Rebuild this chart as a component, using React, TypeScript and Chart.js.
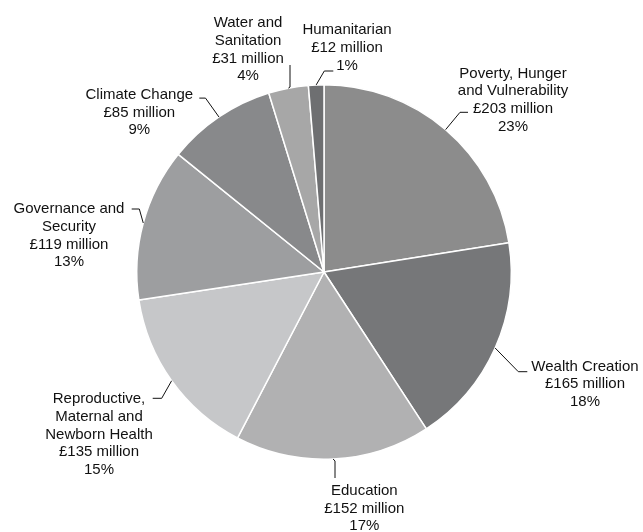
import { useEffect, useRef } from "react";
import { Chart, registerables } from "chart.js";

Chart.register(...registerables);

const categories = [
  "Poverty, Hunger and Vulnerability",
  "Wealth Creation",
  "Education",
  "Reproductive, Maternal and Newborn Health",
  "Governance and Security",
  "Climate Change",
  "Water and Sanitation",
  "Humanitarian",
];
const nameLines = [
  ["Poverty, Hunger", "and Vulnerability"],
  ["Wealth Creation"],
  ["Education"],
  ["Reproductive,", "Maternal and", "Newborn Health"],
  ["Governance and", "Security"],
  ["Climate Change"],
  ["Water and", "Sanitation"],
  ["Humanitarian"],
];
const values = [203, 165, 152, 135, 119, 85, 31, 12];
const amountLabels = [
  "£203 million",
  "£165 million",
  "£152 million",
  "£135 million",
  "£119 million",
  "£85 million",
  "£31 million",
  "£12 million",
];
const percentLabels = ["23%", "18%", "17%", "15%", "13%", "9%", "4%", "1%"];
const colors = [
  "#8c8c8c",
  "#767779",
  "#b1b1b2",
  "#c6c7c9",
  "#9d9ea0",
  "#88898b",
  "#a7a7a7",
  "#6e6f71",
];

// Label layout, offsets relative to the pie centre (text centre / first baseline, leader elbow, leader end)
const labelLayout = [
  { tx: 189, ty: -194.3, ex: 136, ey: -159.7, fx: 144, fy: -159.7 },
  { tx: 261, ty: 98.7, ex: 194.3, ey: 99.7, fx: 203.3, fy: 99.7 },
  { tx: 40.3, ty: 223, ex: 11, ey: 189, fx: 11, fy: 206 },
  { tx: -225, ty: 131.3, ex: -162.3, ey: 126.3, fx: -171.3, fy: 126.3 },
  { tx: -255, ty: -58.7, ex: -184.7, ey: -63, fx: -192.3, fy: -63 },
  { tx: -184.7, ty: -172.8, ex: -118.5, ey: -173.9, fx: -124.7, fy: -173.9 },
  { tx: -76, ty: -244.7, ex: -34, ey: -185, fx: -34, fy: -207 },
  { tx: 23, ty: -237.7, ex: 0.3, ey: -201, fx: 9.3, fy: -201 },
];
const LINE_H = 17.6;

const labelPlugin = {
  id: "outsideLabels",
  afterDatasetsDraw(chart: any) {
    const ctx = chart.ctx;
    const meta = chart.getDatasetMeta(0);
    ctx.save();
    ctx.font = "15px 'Liberation Sans', Arial, sans-serif";
    ctx.fillStyle = "#111111";
    ctx.textAlign = "center";
    ctx.textBaseline = "alphabetic";
    ctx.strokeStyle = "#111111";
    ctx.lineWidth = 1;
    meta.data.forEach((arc: any, i: number) => {
      const { x, y, startAngle, endAngle, outerRadius } = arc.getProps(
        ["x", "y", "startAngle", "endAngle", "outerRadius"],
        true
      );
      const L = labelLayout[i];
      const mid = (startAngle + endAngle) / 2;
      const sx = x + Math.cos(mid) * outerRadius;
      const sy = y + Math.sin(mid) * outerRadius;
      ctx.beginPath();
      ctx.moveTo(sx, sy);
      ctx.lineTo(x + L.ex, y + L.ey);
      ctx.lineTo(x + L.fx, y + L.fy);
      ctx.stroke();
      const lines = [...nameLines[i], amountLabels[i], percentLabels[i]];
      lines.forEach((t, j) => {
        ctx.fillText(t, x + L.tx, y + L.ty + j * LINE_H);
      });
    });
    ctx.restore();
  },
};

export default function App() {
  const ref = useRef<HTMLCanvasElement | null>(null);
  useEffect(() => {
    document.body.style.margin = "0";
    const canvas = ref.current;
    if (!canvas) return;
    const chart = new Chart(canvas, {
      type: "pie",
      data: {
        labels: categories,
        datasets: [
          {
            data: values,
            backgroundColor: colors,
            borderColor: "#ffffff",
            borderWidth: 1.5,
          },
        ],
      },
      options: {
        responsive: false,
        animation: false,
        devicePixelRatio: 1,
        layout: { padding: { top: 84, bottom: 72, left: 100, right: 95 } },
        plugins: {
          legend: { display: false },
          tooltip: { enabled: false },
        },
      },
      plugins: [labelPlugin],
    });
    return () => chart.destroy();
  }, []);
  return (
    <div style={{ width: 643, height: 532, background: "#ffffff" }}>
      <canvas ref={ref} width={643} height={532} style={{ display: "block", width: 643, height: 532 }} />
    </div>
  );
}
